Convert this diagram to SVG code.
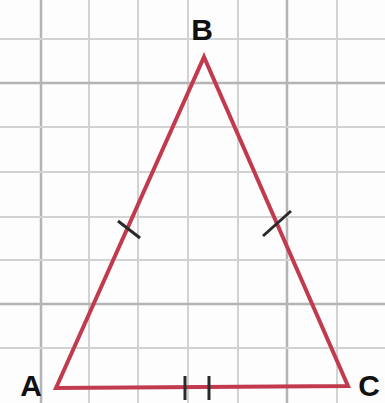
<svg xmlns="http://www.w3.org/2000/svg" width="385" height="403" viewBox="0 0 385 403">
<style>
.g{stroke:#d2d2d2;stroke-width:2;fill:none}
.gt{stroke:#b4b4b4;stroke-width:2.5;fill:none}
.tri{stroke:#c13a4e;stroke-width:4;fill:none;stroke-linejoin:miter}
.tick{stroke:#2a2a2a;stroke-width:3;stroke-linecap:butt}
.lbl{font-family:"Liberation Sans",Arial,sans-serif;font-weight:bold;font-size:30px;fill:#111}
</style>
<rect width="385" height="403" fill="#fdfdfd"/>
<g id="grid">
<path class="g" d="M89 0V403M138 0V403M188 0V403M238 0V403M337 0V403"/>
<path class="gt" d="M41 0V403M287 0V403"/>
<path class="g" d="M0 39H385M0 127H385M0 172H385M0 217H385M0 260H385M0 348H385"/>
<path class="gt" d="M0 83H385M0 304H385"/>
</g>
<g id="connectors">
<polygon class="tri" points="56,388 204,57 348,386"/>
<line class="tick" x1="118" y1="221" x2="140" y2="238"/>
<line class="tick" x1="263" y1="236" x2="291" y2="211"/>
<line class="tick" x1="185" y1="376" x2="185" y2="400"/>
<line class="tick" x1="209" y1="376" x2="209" y2="400"/>
</g>
<g id="B"><text class="lbl" x="202" y="40" text-anchor="middle">B</text></g>
<g id="A"><text class="lbl" x="31" y="396" text-anchor="middle">A</text></g>
<g id="C"><text class="lbl" x="369" y="396" text-anchor="middle">C</text></g>
</svg>
